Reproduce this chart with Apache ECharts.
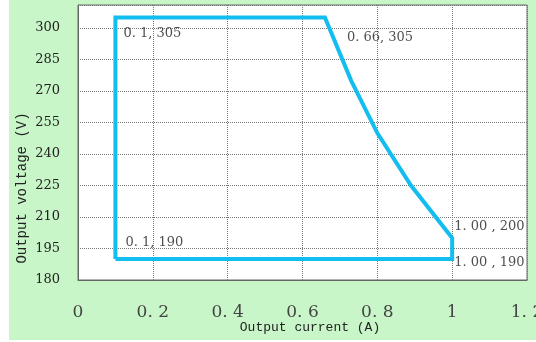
<!DOCTYPE html>
<html>
<head>
<meta charset="utf-8">
<script src="https://cdn.jsdelivr.net/npm/echarts@6/dist/echarts.min.js"></script>
<style>
  html, body { margin: 0; padding: 0; background: #ffffff; }
  #chart { width: 536px; height: 342px; }
</style>
</head>
<body>
<div id="chart"></div>
<script>
// Operating envelope: output current (A) vs output voltage (V)
const currentA = [0.1, 0.1, 0.66, 0.73, 0.8, 0.89, 1.0, 1.0, 0.1];
const voltageV = [190, 305, 305, 275, 250, 225, 200, 190, 190];

// Annotated corner points
const cornerCurrent = [0.1, 0.66, 0.1, 1.0, 1.0];
const cornerVoltage = [305, 305, 190, 200, 190];
const cornerText = ['0. 1, 305', '0. 66, 305', '0. 1, 190', '1. 00 , 200', '1. 00 , 190'];
const cornerOffset = [[8, 16], [22, 20], [10, -16], [2, -11], [2, 4]];

// Axis ticks
const xTicks = [0, 0.2, 0.4, 0.6, 0.8, 1.0, 1.2];
const yTicks = [180, 195, 210, 225, 240, 255, 270, 285, 300];

const chart = echarts.init(document.getElementById('chart'), null, { renderer: 'canvas' });

const envelope = currentA.map((c, i) => [c, voltageV[i]]);
const corners = cornerCurrent.map((c, i) => ({
  value: [c, cornerVoltage[i]],
  label: { offset: cornerOffset[i] }
}));

const option = {
  backgroundColor: '#ffffff',
  animation: false,
  graphic: [
    {
      type: 'rect',
      z: -10,
      silent: true,
      shape: { x: 9, y: 0, width: 527, height: 340 },
      style: { fill: '#c8f6c8' }
    },
    {
      // vertical title, reading bottom-to-top
      type: 'text',
      x: 22, y: 188,
      rotation: Math.PI / 2,
      style: {
        text: 'Output voltage (V)',
        font: '14px "Liberation Mono", monospace',
        fill: '#222',
        align: 'center',
        verticalAlign: 'middle'
      }
    },
    {
      type: 'text',
      x: 310, y: 328,
      style: {
        text: 'Output current (A)',
        font: '13px "Liberation Mono", monospace',
        fill: '#222',
        align: 'center',
        verticalAlign: 'middle'
      }
    }
  ],
  grid: {
    left: 78, right: 9, top: 5, bottom: 62,
    outerBoundsMode: 'none',
    containLabel: false,
    show: true,
    backgroundColor: '#ffffff',
    borderColor: '#666',
    borderWidth: 1
  },
  xAxis: {
    type: 'value',
    min: xTicks[0],
    max: xTicks[xTicks.length - 1],
    interval: 0.2,
    axisLine: { show: true, lineStyle: { color: '#666', width: 1 } },
    axisTick: { show: false },
    axisLabel: {
      margin: 24,
      color: '#444',
      fontSize: 17,
      fontFamily: '"DejaVu Serif", serif',
      showMaxLabel: true,
      hideOverlap: false,
      formatter: v => {
        const t = xTicks.find(k => Math.abs(k - v) < 1e-6);
        return t === undefined ? '' : String(Math.round(t * 10) / 10).replace('.', '. ');
      }
    },
    splitLine: { show: true, lineStyle: { color: '#777', type: 'dotted', width: 1 } }
  },
  yAxis: {
    type: 'value',
    min: yTicks[0],
    max: 311,
    interval: 15,
    axisLine: { show: true, lineStyle: { color: '#666', width: 1 } },
    axisTick: { show: false },
    axisLabel: {
      margin: 18,
      color: '#222',
      fontSize: 13,
      fontFamily: '"DejaVu Serif", serif',
      formatter: v => (yTicks.indexOf(v) >= 0 ? String(v) : '')
    },
    splitLine: { show: true, lineStyle: { color: '#777', type: 'dotted', width: 1 } }
  },
  series: [
    {
      type: 'line',
      data: envelope,
      symbol: 'none',
      lineStyle: { color: '#12bdef', width: 4, join: 'miter' },
      z: 3
    },
    {
      type: 'scatter',
      data: corners,
      symbolSize: 0,
      z: 4,
      label: {
        show: true,
        position: 'inside',
        align: 'left',
        verticalAlign: 'middle',
        color: '#222',
        fontSize: 13,
        fontFamily: '"DejaVu Serif", serif',
        formatter: p => cornerText[p.dataIndex]
      }
    }
  ]
};

chart.setOption(option);
</script>
</body>
</html>
